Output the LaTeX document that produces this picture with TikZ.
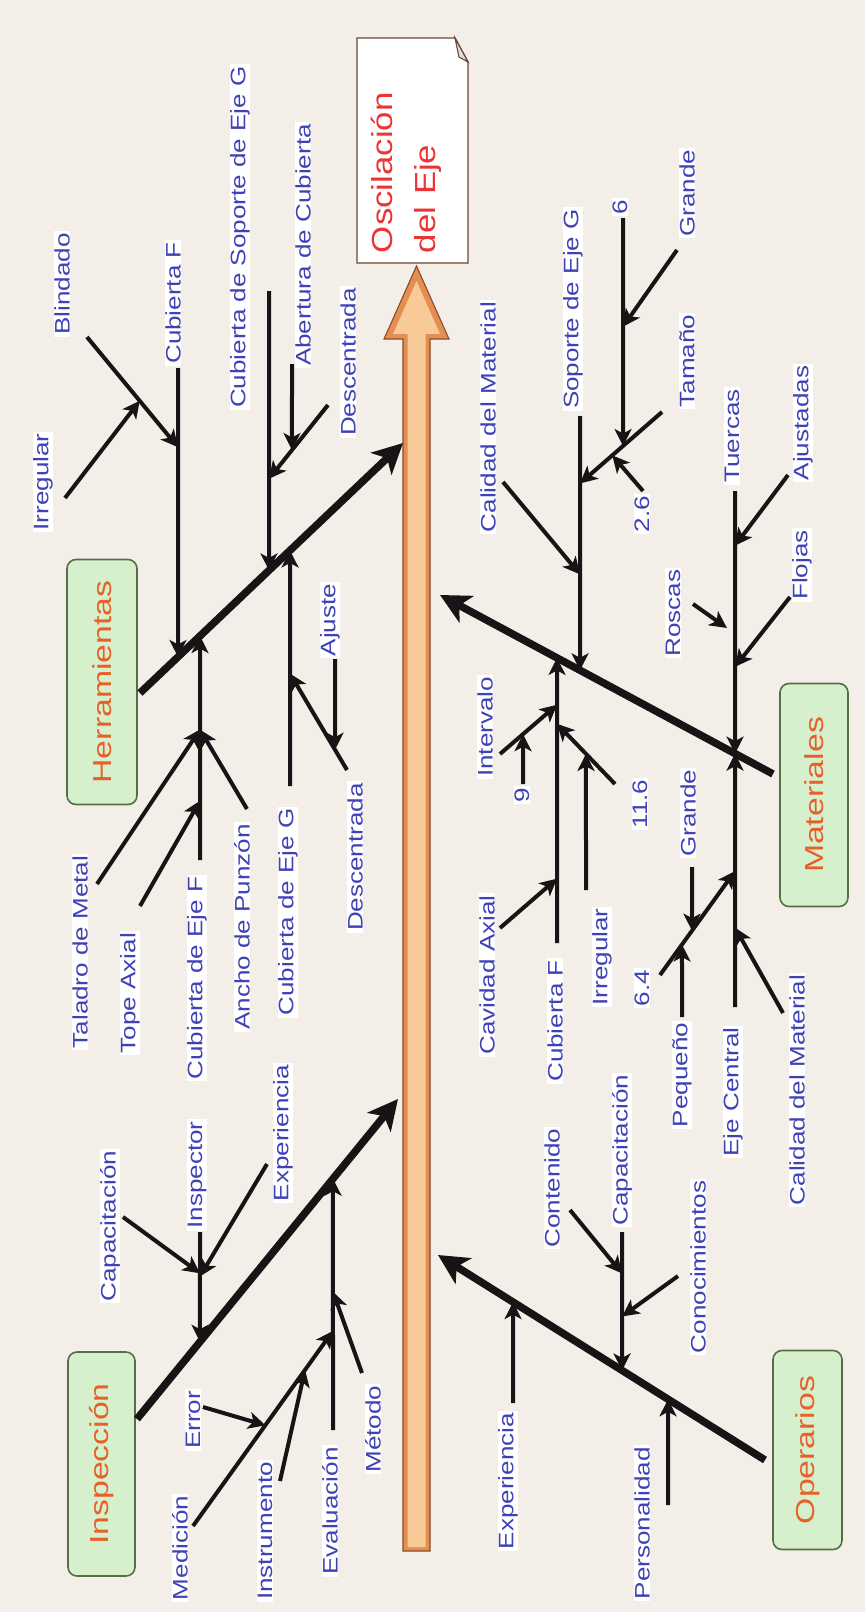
\documentclass[tikz,border=0pt]{standalone}
\usepackage{fontspec}
\setmainfont{Liberation Sans}
\usepackage{graphicx}
\usetikzlibrary{arrows.meta}
\definecolor{bgc}{RGB}{243,239,232}
\definecolor{lblc}{RGB}{62,66,182}
\definecolor{linec}{RGB}{22,20,20}
\definecolor{catf}{RGB}{214,240,205}
\definecolor{catd}{RGB}{85,110,70}
\definecolor{catt}{RGB}{232,96,40}
\definecolor{spo}{RGB}{228,142,82}
\definecolor{spl}{RGB}{248,202,152}
\definecolor{spd}{RGB}{140,75,40}
\definecolor{effd}{RGB}{110,70,50}
\definecolor{efft}{RGB}{236,52,52}
\newcommand\sx[1]{\scalebox{1.24}[1]{#1}}
\newcommand\sxc[1]{\scalebox{1.3}[1]{#1}}
\newcommand\sxe[1]{\scalebox{1.2}[1]{#1}}
\newcommand\fbranch[5]{%
  \coordinate (#1s) at #2;
  \coordinate (#1g) at #3;
  \coordinate (#1e) at (intersection of #1s--#1g and #4--#5);
  \draw[subarr] (#1s) -- (#1e);}
\begin{document}
\begin{tikzpicture}[x=1pt,y=-1pt,
  subarr/.style={line width=4pt, draw=linec, -{Stealth[length=17pt,width=17pt,inset=4.5pt]}},
  bonearr/.style={line width=7.5pt, draw=linec, -{Stealth[length=30pt,width=30pt,inset=8pt]}},
  lbl/.style={rotate=90, font=\fontsize{21}{24}\selectfont, text=lblc, fill=white, inner xsep=2pt, inner ysep=0.5pt},
  cat/.style={rotate=90, draw=catd, line width=1.6pt, fill=catf, rounded corners=9pt, text=catt, font=\fontsize{26}{26}\selectfont, inner sep=0pt}]
\useasboundingbox (0,0) rectangle (865,1612);
\fill[bgc] (0,0) rectangle (865,1612);

% effect box
\filldraw[fill=white, draw=effd, line width=1.4pt] (357,38) -- (455,38) -- (468,62) -- (468,263) -- (357,263) -- cycle;
\filldraw[draw=effd, fill=black!12, line width=1.1pt] (455,38) -- (459,57) -- (468,62) -- cycle;
\node[rotate=90, font=\fontsize{29}{43}\selectfont, text=efft, align=left, text width=205pt, inner xsep=10pt, inner ysep=0pt] (eff) at (406.5,150.5) {\sxe{Oscilación}\\\sxe{del Eje}};

% spine
\fill[spo] (403,1551) -- (403,339) -- (384,339) -- (416.5,266) -- (449,339) -- (430,339) -- (430,1551) -- cycle;
\fill[spl] (407.5,1547) -- (407.5,334) -- (393,334) -- (416.5,281) -- (440,334) -- (425.5,334) -- (425.5,1547) -- cycle;
\draw[spd, line width=1.1pt] (403,1551) -- (403,339) -- (384,339) -- (416.5,266) -- (449,339) -- (430,339) -- (430,1551) -- cycle;

% category boxes
\node[cat, minimum width=245pt, minimum height=70pt] (herr) at (102,682) {\sxc{Herramientas}};
\node[cat, minimum width=224pt, minimum height=67pt] (insp) at (101.5,1464) {\sxc{Inspección}};
\node[cat, minimum width=223pt, minimum height=68pt] (mat) at (814,795) {\sxc{Materiales}};
\node[cat, minimum width=199pt, minimum height=69pt] (oper) at (807.5,1450) {\sxc{Operarios}};

% labels: Herramientas
\node[lbl] (L1) at (43,482) {\sx{Irregular}};
\node[lbl] (L2) at (62,284) {\sx{Blindado}};
\node[lbl] (L3) at (173,303) {\sx{Cubierta F}};
\node[lbl] (L4) at (240,237) {\sx{Cubierta de Soporte de Eje G}};
\node[lbl] (L5) at (303,245) {\sx{Abertura de Cubierta}};
\node[lbl] (L6) at (348,362) {\sx{Descentrada}};
\node[lbl] (L7) at (80,952) {\sx{Taladro de Metal}};
\node[lbl] (L8) at (130,993) {\sx{Tope Axial}};
\node[lbl] (L9) at (197,978) {\sx{Cubierta de Eje F}};
\node[lbl] (L10) at (242,927) {\sx{Ancho de Punzón}};
\node[lbl] (L11) at (288,912) {\sx{Cubierta de Eje G}};
\node[lbl] (L12) at (355,857) {\sx{Descentrada}};
\node[lbl] (L13) at (330,620) {\sx{Ajuste}};
% labels: Materiales
\node[lbl] (M1) at (488,417) {\sx{Calidad del Material}};
\node[lbl] (M2) at (573,309) {\sx{Soporte de Eje G}};
\node[lbl] (M3) at (620,207) {\sx{6}};
\node[lbl] (M4) at (687,193) {\sx{Grande}};
\node[lbl] (M5) at (687,361) {\sx{Tamaño}};
\node[lbl] (M6) at (642,514) {\sx{2.6}};
\node[lbl] (M7) at (732,436) {\sx{Tuercas}};
\node[lbl] (M8) at (803,423) {\sx{Ajustadas}};
\node[lbl] (M9) at (673,613) {\sx{Roscas}};
\node[lbl] (M10) at (802,565) {\sx{Flojas}};
\node[lbl] (M11) at (485,727) {\sx{Intervalo}};
\node[lbl] (M12) at (522,795) {\sx{9}};
\node[lbl] (M13) at (640,804) {\sx{11.6}};
\node[lbl] (M14) at (688,813) {\sx{Grande}};
\node[lbl] (M15) at (487,975) {\sx{Cavidad Axial}};
\node[lbl] (M16) at (555,1021) {\sx{Cubierta F}};
\node[lbl] (M17) at (602,957) {\sx{Irregular}};
\node[lbl] (M18) at (642,988) {\sx{6.4}};
\node[lbl] (M19) at (682,1075) {\sx{Pequeño}};
\node[lbl] (M20) at (733,1092) {\sx{Eje Central}};
\node[lbl] (M21) at (797,1090) {\sx{Calidad del Material}};
% labels: Inspeccion
\node[lbl] (I1) at (110,1226) {\sx{Capacitación}};
\node[lbl] (I2) at (197,1175) {\sx{Inspector}};
\node[lbl] (I3) at (283,1133) {\sx{Experiencia}};
\node[lbl] (I4) at (193,1420) {\sx{Error}};
\node[lbl] (I5) at (180,1548) {\sx{Medición}};
\node[lbl] (I6) at (265,1531) {\sx{Instrumento}};
\node[lbl] (I7) at (330,1511) {\sx{Evaluación}};
\node[lbl] (I8) at (373,1429) {\sx{Método}};
% labels: Operarios
\node[lbl] (O1) at (508,1481) {\sx{Experiencia}};
\node[lbl] (O2) at (642,1523) {\sx{Personalidad}};
\node[lbl] (O3) at (552,1188) {\sx{Contenido}};
\node[lbl] (O4) at (622,1150) {\sx{Capacitación}};
\node[lbl] (O5) at (698,1267) {\sx{Conocimientos}};

% main bones
\coordinate (hb1) at (140,693); \coordinate (hb2) at (403,443);
\coordinate (mb1) at (773,774); \coordinate (mb2) at (440,595);
\coordinate (ib1) at (137,1419); \coordinate (ib2) at (398,1099);
\coordinate (ob1) at (765,1460); \coordinate (ob2) at (438,1255);
\draw[bonearr] (hb1) -- (hb2);
\draw[bonearr] (mb1) -- (mb2);
\draw[bonearr] (ib1) -- (ib2);
\draw[bonearr] (ob1) -- (ob2);

% Herramientas branches
\fbranch{hCF}{(178,368)}{(178,640)}{hb1}{hb2}
\fbranch{hBl}{(87,337)}{(177,446)}{hCFs}{hCFe}
\fbranch{hIr}{(65,498)}{(135,407)}{hBls}{hBle}
\fbranch{hCS}{(269,291)}{(269,560)}{hb1}{hb2}
\fbranch{hDa}{(328,405)}{(272,475)}{hCSs}{hCSe}
\fbranch{hAb}{(292,364)}{(292,445)}{hDas}{hDae}
\fbranch{hEF}{(200,860)}{(200,641)}{hb1}{hb2}
\fbranch{hTM}{(97,884)}{(197,734)}{hEFs}{hEFe}
\fbranch{hTA}{(140,906)}{(197,806)}{hEFs}{hEFe}
\fbranch{hAP}{(247,809)}{(205,738)}{hEFs}{hEFe}
\fbranch{hEG}{(290,786)}{(290,563)}{hb1}{hb2}
\fbranch{hDb}{(347,770)}{(295,682)}{hEGs}{hEGe}
\fbranch{hAj}{(335,659)}{(335,738)}{hDbs}{hDbe}

% Materiales branches
\fbranch{mSE}{(580,416)}{(580,657)}{mb1}{mb2}
\fbranch{mCa}{(503,482)}{(573,566)}{mSEs}{mSEe}
\fbranch{mTa}{(662,412)}{(585,479)}{mSEs}{mSEe}
\fbranch{mSx}{(623,218)}{(623,434)}{mTas}{mTae}
\fbranch{mGa}{(677,250)}{(627,321)}{mSxs}{mSxe}
\fbranch{mDs}{(643,491)}{(618,462)}{mTas}{mTae}
\fbranch{mTu}{(735,491)}{(735,731)}{mb1}{mb2}
\fbranch{mAj}{(788,475)}{(740,539)}{mTus}{mTue}
\fbranch{mFl}{(790,597)}{(738,663)}{mTus}{mTue}
\coordinate (mRos) at (693,604); \coordinate (mRoe) at (727,628);
\draw[subarr] (mRos) -- (mRoe);
\fbranch{mEC}{(735,1007)}{(735,766)}{mb1}{mb2}
\fbranch{mCb}{(783,1013)}{(742,940)}{mECs}{mECe}
\fbranch{mSf}{(660,975)}{(730,878)}{mECs}{mECe}
\fbranch{mPe}{(682,1017)}{(682,950)}{mSfs}{mSfe}
\fbranch{mGb}{(692,867)}{(692,918)}{mSfs}{mSfe}
\fbranch{mCF}{(557,943)}{(557,661)}{mb1}{mb2}
\fbranch{mCA}{(500,928)}{(553,882)}{mCFs}{mCFe}
\fbranch{mIn}{(500,754)}{(552,709)}{mCFs}{mCFe}
\fbranch{mNi}{(523,784)}{(523,743)}{mIns}{mIne}
\fbranch{mEl}{(615,784)}{(562,729)}{mCFs}{mCFe}
\fbranch{mIr}{(586,890)}{(586,757)}{mEls}{mEle}

% Inspeccion branches
\fbranch{iIn}{(200,1232)}{(200,1324)}{ib1}{ib2}
\fbranch{iCa}{(123,1217)}{(197,1271)}{iIns}{iIne}
\fbranch{iEx}{(267,1164)}{(205,1268)}{iIns}{iIne}
\fbranch{iEv}{(333,1430)}{(333,1188)}{ib1}{ib2}
\fbranch{iMe}{(362,1373)}{(337,1303)}{iEvs}{iEve}
\fbranch{iMd}{(193,1526)}{(330,1335)}{iEvs}{iEve}
\fbranch{iEr}{(203,1407)}{(258,1423)}{iMds}{iMde}
\fbranch{iIs}{(280,1481)}{(305,1370)}{iMds}{iMde}

% Operarios branches
\fbranch{oEx}{(513,1403)}{(513,1303)}{ob1}{ob2}
\fbranch{oPe}{(668,1505)}{(668,1405)}{ob1}{ob2}
\fbranch{oCa}{(622,1232)}{(622,1364)}{ob1}{ob2}
\fbranch{oCo}{(570,1210)}{(620,1271)}{oCas}{oCae}
\fbranch{oCn}{(678,1276)}{(628,1312)}{oCas}{oCae}
\end{tikzpicture}
\end{document}
